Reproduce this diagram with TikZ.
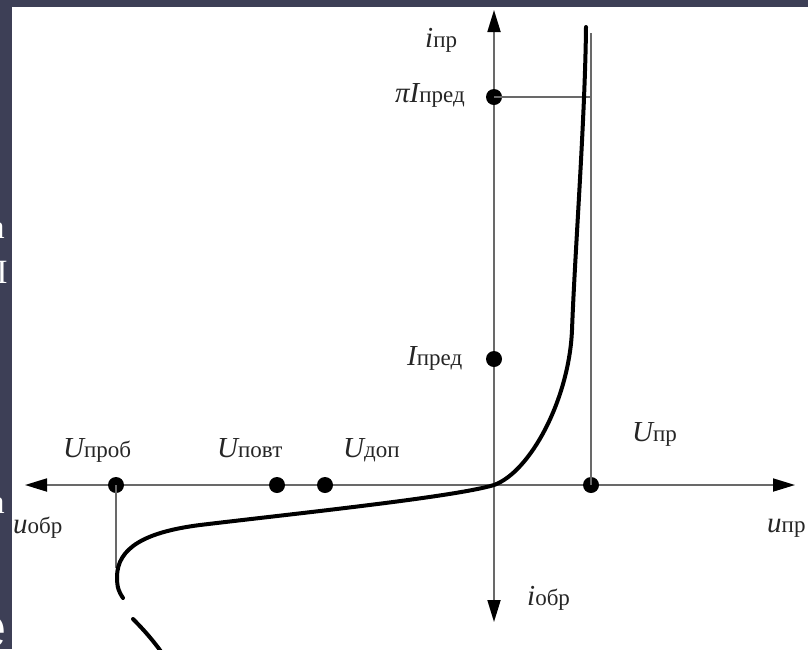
\documentclass[tikz,border=0pt]{standalone}
\usepackage{fontspec}
\setmainfont{Liberation Serif}
\newfontfamily\fragsans{Liberation Sans}
\usetikzlibrary{arrows.meta}
\definecolor{frame}{RGB}{61,63,86}
\definecolor{axisgray}{RGB}{105,105,105}
\newcommand\vlbl[2]{{\fontsize{29}{30}\selectfont\itshape #1}{\fontsize{23}{25}\selectfont #2}}
\tikzset{
  axisline/.style={draw=axisgray, line width=1.8pt},
  thinline/.style={draw=axisgray, line width=1.5pt},
  curveline/.style={draw=black, line width=4pt, line cap=round},
  dotnode/.style={circle, fill=black, inner sep=0pt, minimum size=16pt},
  lbl/.style={anchor=base west, inner sep=0pt, text=black!85},
  frag/.style={text=white, inner sep=0pt, anchor=base east}
}
\begin{document}
\begin{tikzpicture}[x=1pt,y=-1pt]
\useasboundingbox (0,0) rectangle (808,649);
\fill[frame] (0,0) rectangle (808,649);
\fill[white] (12,7) rectangle (808,649);
% cut-off slide letters at the left edge
\begin{scope}
\clip (0,0) rectangle (12,649);
\node[frag, font=\fontsize{34}{36}\selectfont] at (5,238) {a};
\node[frag, font=\fontsize{34}{36}\selectfont] at (8,283) {I};
\node[frag, font=\fontsize{34}{36}\selectfont] at (5,513) {a};
\node[frag, font=\fragsans\fontsize{58}{60}\selectfont] at (7,647) {e};
\end{scope}
\begin{scope}
\clip (12,7) rectangle (808,649);
% axes
\coordinate (xl) at (25,485);
\coordinate (xr) at (795,485);
\coordinate (yt) at (494,10);
\coordinate (yb) at (494,622);
\draw[axisline, {Triangle[length=22pt,width=13pt,color=black]}-{Triangle[length=22pt,width=13pt,color=black]}] (xl) -- (xr);
\draw[axisline, {Triangle[length=22pt,width=13pt,color=black]}-{Triangle[length=22pt,width=13pt,color=black]}] (yt) -- (yb);
% helper coordinates
\coordinate (uprtop) at (591,33);
\coordinate (pihend) at (592,97);
\coordinate (uprobbot) at (116,568);
% dots and thin lines
\node[dotnode] (dupr) at (591,485) {};
\node[dotnode] (dpi) at (494,97) {};
\node[dotnode] (dipred) at (494,359) {};
\node[dotnode] (duprob) at (116,485) {};
\node[dotnode] (dupovt) at (277,485) {};
\node[dotnode] (dudop) at (325,485) {};
\draw[thinline] (uprtop) -- (dupr.center);
\draw[thinline] (dpi.center) -- (pihend);
\draw[thinline] (duprob.center) -- (uprobbot);
% characteristic curve
\coordinate (c0) at (586,27);
\coordinate (c1) at (572,330);
\coordinate (c2) at (494,485);
\coordinate (c3) at (200,525);
\coordinate (c4) at (117,577);
\coordinate (c5) at (123,598);
\draw[curveline] (c0) .. controls (585,120) and (575,250) .. (c1)
  .. controls (569,400) and (530,472) .. (c2)
  .. controls (454,497) and (300,513) .. (c3)
  .. controls (145,532) and (117,548) .. (c4)
  .. controls (117,588) and (119,592) .. (c5);
\coordinate (d0) at (133,619);
\coordinate (d1) at (168,662);
\draw[curveline] (d0) .. controls (146,632) and (158,646) .. (d1);
% labels
\node[lbl] (lipr) at (425,47) {\vlbl{i}{пр}};
\node[lbl] (lpi) at (395,102) {\vlbl{πI}{пред}};
\node[lbl] (lipred) at (407,365) {\vlbl{I}{пред}};
\node[lbl] (lupr) at (632,441) {\vlbl{U}{пр}};
\node[lbl] (luprx) at (767,532) {\vlbl{u}{пр}};
\node[lbl] (liobr) at (527,605) {\vlbl{i}{обр}};
\node[lbl] (luprob) at (63,457) {\vlbl{U}{проб}};
\node[lbl] (lupovt) at (217,457) {\vlbl{U}{повт}};
\node[lbl] (ludop) at (343,457) {\vlbl{U}{доп}};
\node[lbl] (luobr) at (13,533) {\vlbl{u}{обр}};
\end{scope}
\end{tikzpicture}
\end{document}
